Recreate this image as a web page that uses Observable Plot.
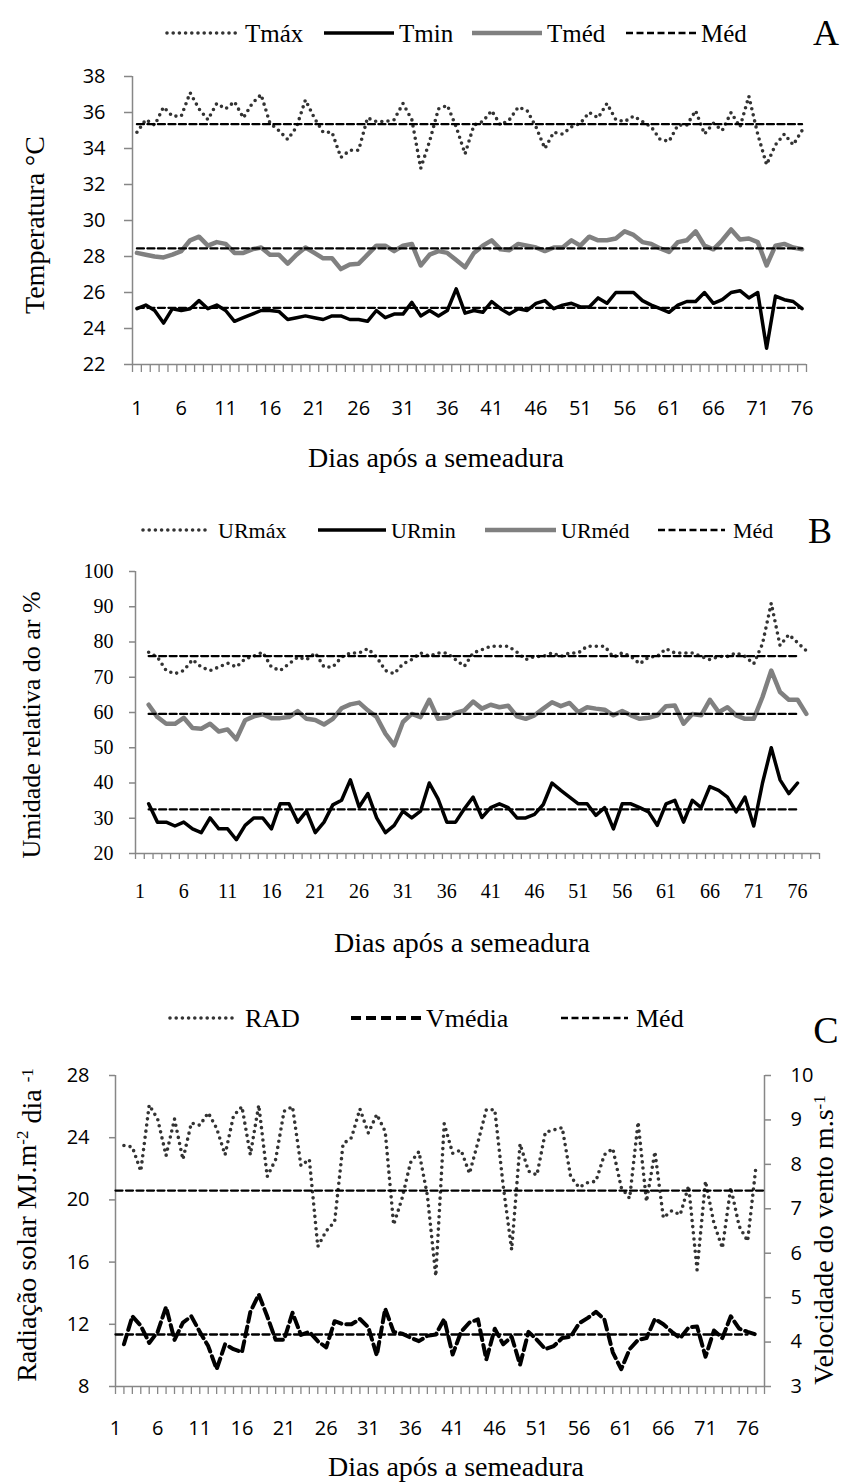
<!DOCTYPE html>
<html>
<head>
<meta charset="utf-8">
<script src="https://cdn.jsdelivr.net/npm/d3@7"></script>
<script src="https://cdn.jsdelivr.net/npm/@observablehq/plot@0.6"></script>
<style>
  html, body { margin: 0; padding: 0; background: #fff; }
  #page { position: relative; width: 843px; height: 1482px; overflow: hidden; background: #fff; }
  .panel { position: absolute; left: 0; width: 843px; }
</style>
</head>
<body>
<div id="page">
  <div class="panel" id="pA" style="top:0px"></div>
  <div class="panel" id="pB" style="top:480px"></div>
  <div class="panel" id="pC" style="top:960px"></div>
</div>
<script>
// ---------------- DATA ----------------
// Panel A: temperature (°C), days 1..76
const daysA = d3.range(1, 77);
const tmax = [34.9,35.6,35.3,36.3,35.8,35.8,37.1,36.2,35.6,36.5,
              36.2,36.6,35.7,36.5,37.0,35.4,35.0,34.5,35.2,36.7,
              35.7,34.9,34.9,33.5,33.9,33.9,35.7,35.5,35.5,35.6,
              36.5,35.6,32.9,34.4,36.2,36.4,35.2,33.7,35.3,35.5,
              36.1,35.3,35.6,36.3,36.1,35.2,34.0,34.9,34.8,35.2,
              35.4,36.0,35.7,36.5,35.6,35.5,35.8,35.5,35.2,34.5,
              34.4,35.3,35.3,36.1,34.8,35.4,35.0,36.0,35.2,36.9,
              34.8,33.1,34.2,34.8,34.2,35.0];
const tmin = [25.1,25.3,25.0,24.3,25.1,25.0,25.1,25.55,25.1,25.3,
              25.0,24.4,24.6,24.8,25.0,25.0,24.95,24.5,24.6,24.7,
              24.6,24.5,24.7,24.7,24.5,24.5,24.4,25.0,24.6,24.8,
              24.8,25.45,24.7,25.0,24.7,25.0,26.2,24.85,25.0,24.9,
              25.5,25.1,24.8,25.1,25.0,25.4,25.55,25.1,25.3,25.4,
              25.2,25.2,25.7,25.4,26.0,26.0,26.0,25.55,25.3,25.1,
              24.9,25.3,25.5,25.5,26.0,25.4,25.6,26.0,26.1,25.7,
              26.0,22.9,25.8,25.6,25.5,25.1];
const tmed = [28.2,28.1,28.0,27.95,28.1,28.3,28.9,29.1,28.6,28.8,
              28.7,28.2,28.2,28.4,28.5,28.1,28.1,27.6,28.1,28.5,
              28.2,27.9,27.9,27.3,27.55,27.6,28.1,28.6,28.6,28.3,
              28.6,28.7,27.5,28.1,28.3,28.2,27.8,27.4,28.2,28.6,
              28.9,28.4,28.35,28.7,28.6,28.5,28.3,28.5,28.5,28.9,
              28.6,29.1,28.9,28.9,29.0,29.4,29.2,28.8,28.7,28.45,
              28.25,28.8,28.9,29.4,28.6,28.4,28.9,29.5,28.95,29.0,
              28.8,27.5,28.6,28.7,28.5,28.4];
const meansA = {tmax: 35.35, tmed: 28.45, tmin: 25.15};

// Panel B: relative humidity (%), URmín days 2..76, URméd/URmáx days 2..77
const daysB = d3.range(2, 78);
const urmin = [34.1,28.9,28.9,27.8,28.9,27.0,25.9,30.1,27.0,27.0,
               23.9,28.0,30.1,30.1,27.0,34.1,34.1,28.9,32.0,25.9,
               28.9,33.8,35.1,40.9,33.2,37.0,30.1,25.9,28.0,32.0,
               30.1,32.0,40.0,35.5,28.9,28.9,32.7,36.0,30.2,33.0,
               34.1,33.0,30.1,30.1,31.1,33.9,40.0,37.9,36.0,34.1,
               34.1,30.8,33.0,27.0,34.1,34.1,33.0,31.8,28.0,34.1,
               35.1,28.9,35.1,33.0,39.0,37.9,36.0,31.8,36.0,27.8,
               40.0,50.0,40.9,37.0,40.0];
const urmed = [62.2,58.7,56.8,56.8,58.5,55.6,55.4,56.8,54.6,55.2,
               52.4,57.8,58.9,59.5,58.4,58.4,58.7,60.4,58.2,57.9,
               56.6,58.2,61.2,62.3,62.8,60.6,58.7,54.0,50.7,57.3,
               59.6,58.7,63.6,58.2,58.5,59.9,60.6,63.1,61.1,62.2,
               61.5,61.9,58.9,58.2,59.2,61.1,62.9,61.8,62.7,60.1,
               61.5,61.1,60.8,59.2,60.4,59.2,58.2,58.5,59.2,61.8,
               62.0,56.8,59.6,59.2,63.6,60.1,61.5,59.2,58.2,58.2,
               64.4,71.9,65.8,63.6,63.6,59.6];
const urmax = [77.1,75.7,71.9,71.0,71.9,75.0,72.9,71.9,72.9,74.0,
               72.9,75.2,76.0,77.1,72.9,71.9,73.8,75.7,75.0,76.9,
               72.9,72.9,75.7,76.9,76.9,78.1,75.7,71.9,71.0,73.8,
               75.0,76.9,76.0,76.9,76.9,75.0,73.1,76.9,77.8,78.8,
               78.8,78.8,77.1,75.0,75.9,75.9,76.9,75.9,76.9,76.9,
               78.8,78.8,78.8,75.7,76.9,75.9,73.8,75.7,75.9,78.1,
               76.9,76.9,76.9,75.9,75.0,75.9,75.9,76.9,75.9,73.8,
               79.5,91.0,79.0,82.1,79.8,77.5];
const meansB = {urmax: 76.0, urmed: 59.6, urmin: 32.5};

// Panel C: solar radiation (MJ m-2 day-1) and mean wind speed (m/s), days 2..77
const daysC = d3.range(2, 78);
const rad = [23.5,23.4,21.85,26.1,25.2,22.85,25.2,22.6,24.95,24.8,
             25.6,24.6,22.9,25.4,26.0,22.9,26.1,21.5,22.6,25.7,
             26.0,22.2,22.6,17.0,18.0,18.6,23.6,24.0,25.85,24.3,
             25.5,24.4,18.4,20.1,22.4,23.1,20.3,15.1,24.9,23.0,
             23.2,21.7,23.7,25.8,25.8,20.9,16.8,23.6,21.85,21.6,
             24.35,24.5,24.65,21.5,20.8,21.1,21.2,22.9,23.3,20.8,
             20.1,25.0,19.9,23.1,18.85,19.3,19.05,20.9,15.5,21.2,
             18.5,16.9,20.8,18.3,17.35,22.2];
const vmed = [3.95,4.58,4.37,3.98,4.23,4.79,4.05,4.44,4.58,4.23,
              3.91,3.39,3.95,3.84,3.77,4.68,5.07,4.58,4.05,4.05,
              4.66,4.16,4.23,4.02,3.88,4.47,4.40,4.40,4.52,4.33,
              3.70,4.75,4.23,4.19,4.10,4.02,4.14,4.17,4.52,3.72,
              4.23,4.44,4.51,3.61,4.30,3.95,4.12,3.49,4.23,4.05,
              3.84,3.91,4.09,4.12,4.42,4.54,4.68,4.51,3.77,3.39,
              3.84,4.05,4.09,4.52,4.40,4.23,4.09,4.33,4.35,3.67,
              4.26,4.09,4.58,4.30,4.23,4.17];
const meansC = {rad: 20.6, vmed: 4.17};

// Axis ticks / labels
const xLabelDays = [1,6,11,16,21,26,31,36,41,46,51,56,61,66,71,76];
const yTicksA = [22,24,26,28,30,32,34,36,38];
const yTicksB = [20,30,40,50,60,70,80,90,100];
const yTicksC = [8,12,16,20,24,28];
const yTicksCRight = [3,4,5,6,7,8,9,10];

const namesA = ["Tmáx","Tmin","Tméd","Méd"];
const namesB = ["URmáx","URmin","URméd","Méd"];
const namesC = ["RAD","Vmédia","Méd"];

// ---------------- STYLES ----------------
const axisGray = "#878787";
const serif = "'Liberation Serif','Times New Roman',serif";
const sans = "'Open Sans',sans-serif";
const sDot = {stroke:"#333333", strokeWidth:3.6, strokeDasharray:"0,6.2", strokeLinecap:"round"};
const sBlack = {stroke:"#000", strokeWidth:3.5, strokeLinejoin:"round"};
const sGray = {stroke:"#808080", strokeWidth:4.5, strokeLinejoin:"round"};
const sMean = {stroke:"#000", strokeWidth:2.3, strokeDasharray:"7,3.5"};
const sWind = {stroke:"#000", strokeWidth:4, strokeDasharray:"10,5", strokeLinejoin:"round"};

function meanLine(first, last, v, style) {
  return Plot.line([{day:first, v}, {day:last, v}], {x:"day", y:"v", ...style});
}

function addText(svg, {x, y, text, size, anchor = "middle", rotate = 0, family = serif, dy = "0.35em"}) {
  const t = d3.select(svg).append("text")
    .attr("transform", `translate(${x},${y}) rotate(${rotate})`)
    .attr("text-anchor", anchor)
    .attr("dy", dy)
    .attr("font-family", family)
    .attr("font-size", size)
    .attr("fill", "#000");
  if (typeof text === "string") t.text(text);
  else text(t);
  return t;
}

function addLegend(svg, items, y, size) {
  const g = d3.select(svg).append("g");
  items.forEach(it => {
    g.append("line")
      .attr("x1", it.x1).attr("x2", it.x2).attr("y1", y).attr("y2", y)
      .attr("stroke", it.s.stroke).attr("stroke-width", it.s.strokeWidth)
      .attr("stroke-dasharray", it.s.strokeDasharray || null)
      .attr("stroke-linecap", it.s.strokeLinecap || "butt");
    g.append("text")
      .attr("x", it.tx).attr("y", y).attr("dy", "0.35em")
      .attr("text-anchor", "start")
      .attr("font-family", serif).attr("font-size", size).attr("fill", "#000")
      .text(it.label);
  });
}

function axesCommon(xTickBounds, tickFont, tickFamily, yTicks, ySize, yPad, xPad, xTickLen) {
  return [
    Plot.axisY({ticks: yTicks, tickSize: ySize, tickPadding: yPad, stroke: axisGray, strokeWidth: 1.5,
                fill: "#000", fontSize: tickFont, fontFamily: tickFamily, label: null}),
    Plot.axisX({ticks: xTickBounds, tickSize: xTickLen, tickFormat: () => "", stroke: axisGray, strokeWidth: 1.3, label: null}),
    Plot.axisX({ticks: xLabelDays, tickSize: 0, tickPadding: xPad, fill: "#000", fontSize: tickFont,
                fontFamily: tickFamily, label: null})
  ];
}

// ---------------- PANEL A ----------------
const rowsA = daysA.map((day, i) => ({day, tmax: tmax[i], tmin: tmin[i], tmed: tmed[i]}));
const plotA = Plot.plot({
  width: 843, height: 480,
  marginTop: 76, marginRight: 37, marginBottom: 116, marginLeft: 132,
  style: {fontFamily: sans, fontSize: "20px", background: "#fff", color: "#000", overflow: "visible"},
  x: {domain: [0.5, 76.5]},
  y: {domain: [22, 38]},
  marks: [
    ...axesCommon(d3.range(0.5, 77, 1), 20, sans, yTicksA, 8, 19, 36, 8),
    Plot.ruleX([0.5], {stroke: axisGray, strokeWidth: 1.5}),
    Plot.ruleY([22], {stroke: axisGray, strokeWidth: 1.5}),
    Plot.line(rowsA, {x: "day", y: "tmed", ...sGray}),
    Plot.line(rowsA, {x: "day", y: "tmin", ...sBlack}),
    Plot.line(rowsA, {x: "day", y: "tmax", ...sDot}),
    meanLine(daysA[0], daysA[daysA.length - 1], meansA.tmax, sMean),
    meanLine(daysA[0], daysA[daysA.length - 1], meansA.tmed, sMean),
    meanLine(daysA[0], daysA[daysA.length - 1], meansA.tmin, sMean)
  ]
});
document.getElementById("pA").appendChild(plotA);
addLegend(plotA, [
  {x1:167, x2:237, tx:245, s:sDot, label:namesA[0]},
  {x1:324, x2:394, tx:399, s:sBlack, label:namesA[1]},
  {x1:472, x2:542, tx:547, s:sGray, label:namesA[2]},
  {x1:626, x2:696, tx:701, s:sMean, label:namesA[3]}
], 33, 25);
addText(plotA, {x: 826, y: 32, text: "A", size: 36});
addText(plotA, {x: 44, y: 225, text: "Temperatura °C", size: 28, rotate: -90, dy: "0"});
addText(plotA, {x: 436, y: 467, text: "Dias após a semeadura", size: 28, dy: "0"});

// ---------------- PANEL B ----------------
const rowsB = daysB.map((day, i) => ({day, urmax: urmax[i], urmed: urmed[i], urmin: urmin[i]}));
const plotB = Plot.plot({
  width: 843, height: 480,
  marginTop: 91, marginRight: 24, marginBottom: 107, marginLeft: 135,
  style: {fontFamily: serif, fontSize: "20px", background: "#fff", color: "#000", overflow: "visible"},
  x: {domain: [0.5, 78.5]},
  y: {domain: [20, 100]},
  marks: [
    ...axesCommon(d3.range(0.5, 79, 1), 20, serif, yTicksB, 6, 16, 30, 6),
    Plot.ruleX([0.5], {stroke: axisGray, strokeWidth: 1.5}),
    Plot.ruleY([20], {stroke: axisGray, strokeWidth: 1.5}),
    Plot.line(rowsB, {x: "day", y: "urmed", ...sGray}),
    Plot.line(rowsB.filter(d => d.urmin != null), {x: "day", y: "urmin", ...sBlack}),
    Plot.line(rowsB, {x: "day", y: "urmax", ...sDot}),
    meanLine(daysB[0], 76, meansB.urmax, sMean),
    meanLine(daysB[0], 76, meansB.urmed, sMean),
    meanLine(daysB[0], 76, meansB.urmin, sMean)
  ]
});
document.getElementById("pB").appendChild(plotB);
addLegend(plotB, [
  {x1:143, x2:210, tx:218, s:sDot, label:namesB[0]},
  {x1:318, x2:386, tx:391, s:sBlack, label:namesB[1]},
  {x1:485, x2:556, tx:561, s:sGray, label:namesB[2]},
  {x1:658, x2:725, tx:733, s:sMean, label:namesB[3]}
], 50, 22);
addText(plotB, {x: 820, y: 50, text: "B", size: 36});
addText(plotB, {x: 40, y: 245, text: "Umidade relativa do ar %", size: 26, rotate: -90, dy: "0"});
addText(plotB, {x: 462, y: 472, text: "Dias após a semeadura", size: 28, dy: "0"});

// ---------------- PANEL C ----------------
const toLeft = v => 8 + (v - 3) * 20 / 7;      // wind (m/s) -> radiation axis position
const fromLeft = y => 3 + (y - 8) * 7 / 20;
const rowsC = daysC.map((day, i) => ({day, rad: rad[i], vmed: vmed[i]}));
const plotC = Plot.plot({
  width: 843, height: 522,
  marginTop: 115, marginRight: 79, marginBottom: 96, marginLeft: 115,
  style: {fontFamily: sans, fontSize: "20px", background: "#fff", color: "#000", overflow: "visible"},
  x: {domain: [1, 78]},
  y: {domain: [8, 28]},
  marks: [
    ...axesCommon(d3.range(1, 79, 1), 20, sans, yTicksC, 6, 20, 34, 8),
    Plot.axisY({anchor: "right", ticks: yTicksCRight.map(toLeft), tickFormat: y => String(Math.round(fromLeft(y))),
                tickSize: 6, tickPadding: 20, stroke: axisGray, strokeWidth: 1.5, fill: "#000",
                fontSize: 20, fontFamily: sans, label: null}),
    Plot.ruleX([1], {stroke: axisGray, strokeWidth: 1.5}),
    Plot.ruleX([78], {stroke: axisGray, strokeWidth: 1.5}),
    Plot.ruleY([8], {stroke: axisGray, strokeWidth: 1.5}),
    Plot.line(rowsC, {x: "day", y: "rad", ...sDot}),
    Plot.line(rowsC, {x: "day", y: d => toLeft(d.vmed), ...sWind}),
    meanLine(1, 78, meansC.rad, sMean),
    meanLine(1, 76, toLeft(meansC.vmed), sMean)
  ]
});
document.getElementById("pC").appendChild(plotC);
addLegend(plotC, [
  {x1:170, x2:235, tx:245, s:sDot, label:namesC[0]},
  {x1:351, x2:421, tx:426, s:sWind, label:namesC[1]},
  {x1:561, x2:628, tx:636, s:sMean, label:namesC[2]}
], 58, 26);
addText(plotC, {x: 826, y: 70, text: "C", size: 38});
addText(plotC, {x: 36, y: 265, size: 28, rotate: -90, dy: "0", text: t => {
  t.append("tspan").text("Radiação solar MJ.m");
  t.append("tspan").attr("dy", "-0.45em").attr("font-size", 17).text("-2");
  t.append("tspan").attr("dy", "0.45em").text(" dia ");
  t.append("tspan").attr("dy", "-0.45em").attr("font-size", 17).text("-1");
}});
addText(plotC, {x: 833, y: 280, size: 28, rotate: -90, dy: "0", text: t => {
  t.append("tspan").text("Velocidade do vento m.s");
  t.append("tspan").attr("dy", "-0.45em").attr("font-size", 17).text("-1");
}});
addText(plotC, {x: 456, y: 516, text: "Dias após a semeadura", size: 28, dy: "0"});
</script>
</body>
</html>
